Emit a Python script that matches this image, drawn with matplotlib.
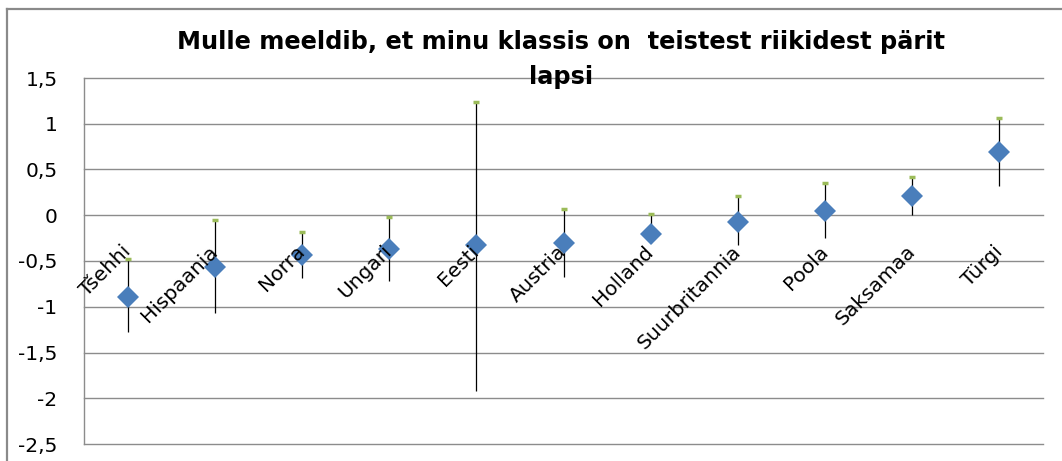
import numpy as np
import matplotlib.pyplot as plt
from matplotlib.lines import Line2D
from matplotlib.ticker import FuncFormatter

riigid = ["Tšehhi", "Hispaania", "Norra", "Ungari", "Eesti", "Austria",
          "Holland", "Suurbritannia", "Poola", "Saksamaa", "Türgi"]
keskmine = [-0.89, -0.57, -0.43, -0.37, -0.33, -0.30, -0.21, -0.07, 0.05, 0.21, 0.69]
ylemine = [-0.48, -0.055, -0.18, -0.02, 1.24, 0.07, 0.01, 0.21, 0.35, 0.42, 1.06]
alumine = [-1.28, -1.07, -0.69, -0.72, -1.92, -0.67, -0.30, -0.33, -0.25, 0.0, 0.32]
yticks = [1.5, 1, 0.5, 0, -0.5, -1, -1.5, -2, -2.5]
pealkiri = ["Mulle meeldib, et minu klassis on  teistest riikidest pärit", "lapsi"]

fig = plt.figure(figsize=(10.62, 4.61), dpi=100)
ax = fig.add_axes([84/1062, 1-444/461, (1043-84)/1062, (444-78)/461])

x = np.arange(len(riigid))
ax.vlines(x, alumine, ylemine, color='black', linewidth=0.9, zorder=3)
ax.plot(x, ylemine, linestyle='none', marker='_', markersize=4.5, markeredgewidth=2.5,
        color='#9BBB59', zorder=4)
ax.plot(x, keskmine, linestyle='none', marker='D', markersize=11.5,
        color='#4A7EBB', markeredgewidth=0, zorder=5)

ax.set_xlim(-0.5, len(riigid) - 0.5)
ax.set_ylim(-2.5, 1.5)
ax.set_yticks(yticks)
ax.yaxis.set_major_formatter(FuncFormatter(lambda v, p: ('%g' % v).replace('.', ',')))
ax.tick_params(axis='y', length=0, pad=19, labelsize=14.5)
ax.set_xticks([])
ax.grid(axis='y', color='#8C8C8C', linewidth=1.0)
for gl in ax.get_ygridlines():
    gl.set_clip_on(False)
ax.set_axisbelow(True)
for s in ['top', 'right', 'bottom']:
    ax.spines[s].set_visible(False)
ax.spines['left'].set_color('#8C8C8C')
ax.spines['left'].set_linewidth(1.0)

for i, r in enumerate(riigid):
    ax.annotate(r, xy=(i, 0), xytext=(0, -24), textcoords='offset points',
                rotation=45, ha='right', va='center', rotation_mode='anchor',
                fontsize=14.5, zorder=6)

fig.text(561/1062, 1-42/461, pealkiri[0], ha='center', va='center',
         fontsize=17.3, fontweight='bold')
fig.text(561/1062, 1-77/461, pealkiri[1], ha='center', va='center',
         fontsize=17.3, fontweight='bold')

# raam ümber joonise
fig.add_artist(Line2D([7/1062, 7/1062], [0, 1-9/461], transform=fig.transFigure,
                      color='#8A8A8A', linewidth=1.6))
fig.add_artist(Line2D([7/1062, 1], [1-9/461, 1-9/461], transform=fig.transFigure,
                      color='#8A8A8A', linewidth=1.6))

plt.savefig("out.png", dpi=100)
plt.close()
